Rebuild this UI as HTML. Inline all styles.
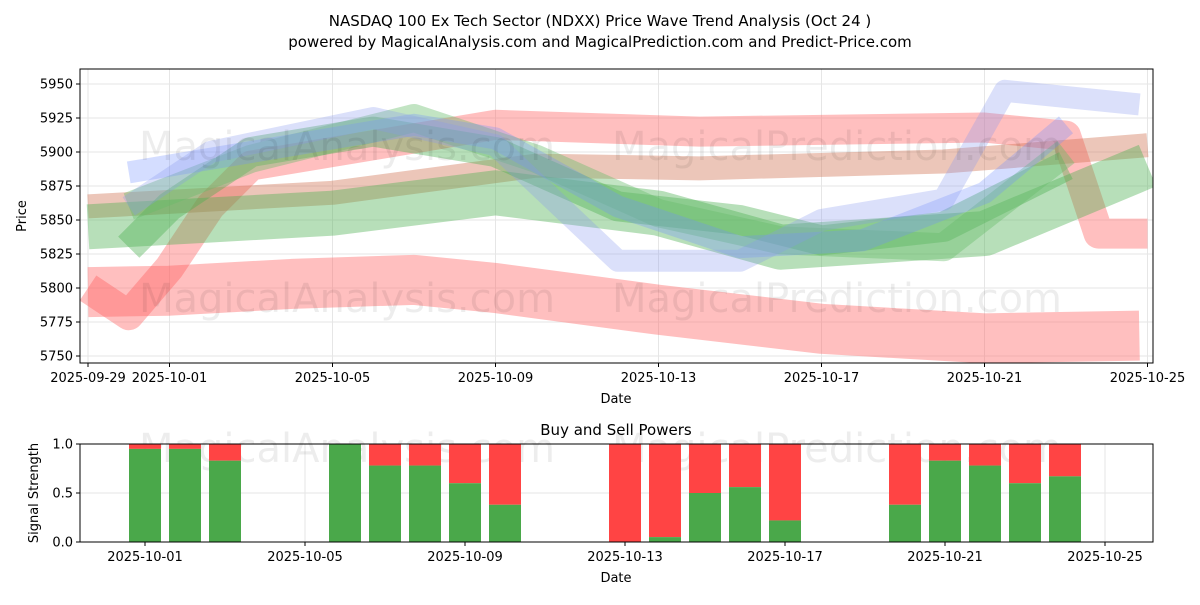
<!DOCTYPE html>
<html><head><meta charset="utf-8"><style>
body{margin:0;background:#fff;font-family:"Liberation Sans","DejaVu Sans",sans-serif}
svg text{font-family:"DejaVu Sans","Liberation Sans",sans-serif}
</style></head><body>
<svg id="c" width="1200" height="600" xmlns="http://www.w3.org/2000/svg">
<text x="600" y="26" text-anchor="middle" font-size="15">NASDAQ 100 Ex Tech Sector (NDXX) Price Wave Trend Analysis (Oct 24 )</text>
<text x="600" y="47" text-anchor="middle" font-size="15">powered by MagicalAnalysis.com and MagicalPrediction.com and Predict-Price.com</text>
<defs><clipPath id="cp"><rect x="80" y="69" width="1073" height="294"/></clipPath></defs>
<g id="top"></g>
<g id="bot"></g>
</svg>
<script>
// price panel data (day offset from 2025-09-29)
const bandNames=['red-lower','red-upper','red-mid','green-1','green-2','green-3','blue-1','blue-2'];
const bandColors=['#ff6060','#ff6060','#d07050','#4caf50','#4caf50','#66bb6a','#7090ff','#8899ee'];
const bandOpac=[0.4,0.4,0.4,0.4,0.4,0.4,0.3,0.3];
const bandDays=[
 [0,2,5,8,10,14,18,22,25.8],
 [0,1,2,3,4,7,10,15,22,24,24.8,26],
 [0,6,11,15,21,26],
 [0,3,6,10,14,17,22,26],
 [1,2,4,7,10,13,16,18,21,24],
 [1,4,8,11,14,17,21,24],
 [1,4,8,10,13,16,19,22,24],
 [1,3,7,10,13,16,18,21,22.5,25.8]];
const bandValues=[
 [5797,5798,5803,5806,5800,5784,5770,5763,5765],
 [5800,5780,5815,5860,5890,5905,5920,5915,5918,5912,5840,5840],
 [5860,5870,5890,5888,5893,5905],
 [5845,5850,5855,5870,5855,5830,5840,5890],
 [5830,5860,5900,5915,5900,5860,5850,5835,5845,5890],
 [5860,5895,5925,5895,5855,5835,5830,5900],
 [5885,5900,5920,5910,5860,5830,5835,5870,5920],
 [5860,5900,5925,5905,5820,5820,5850,5865,5945,5935]];
const bandWidths=[50,30,24,45,30,28,22,22];
const yTicks=[5750,5775,5800,5825,5850,5875,5900,5925,5950];
const xTickDays=[0,2,6,10,14,18,22,26];
const xTickLabels=['2025-09-29','2025-10-01','2025-10-05','2025-10-09','2025-10-13','2025-10-17','2025-10-21','2025-10-25'];
// signal panel data (day offset from 2025-10-01)
const sigDays=[0,1,2,5,6,7,8,9,12,13,14,15,16,19,20,21,22,23];
const buyPower=[0.95,0.95,0.83,1.0,0.78,0.78,0.6,0.38,0.0,0.05,0.5,0.56,0.22,0.38,0.83,0.78,0.6,0.67];
const bTickDays=[0,4,8,12,16,20,24];
const bTickLabels=['2025-10-01','2025-10-05','2025-10-09','2025-10-13','2025-10-17','2025-10-21','2025-10-25'];
const sTicks=[0,0.5,1.0];

const NS='http://www.w3.org/2000/svg';
function mk(p,t,a){const e=document.createElementNS(NS,t);for(const k in a)e.setAttribute(k,a[k]);p.appendChild(e);return e;}
const x=d=>88+40.75*d, y=v=>84+(5950-v)*1.36;
const xb=d=>145+40.0*d, yb=v=>542-98*v;
const topG=document.getElementById('top'), botG=document.getElementById('bot');

yTicks.forEach(v=>{const g=mk(topG,'line',{x1:80,x2:1153,y1:y(v),y2:y(v),stroke:'#e6e6e6'});

mk(topG,'line',{x1:76,x2:80,y1:y(v),y2:y(v),stroke:'#000'});
const t=mk(topG,'text',{x:73,y:y(v)+4.5,'text-anchor':'end','font-size':13});t.textContent=v;
});
xTickDays.forEach((d,i)=>{const g=mk(topG,'line',{x1:x(d),x2:x(d),y1:69,y2:363,stroke:'#e6e6e6'});

mk(topG,'line',{x1:x(d),x2:x(d),y1:363,y2:367,stroke:'#000'});
const t=mk(topG,'text',{x:x(d),y:382,'text-anchor':'middle','font-size':13});t.textContent=xTickLabels[i];
});
const bg=mk(topG,'g',{'clip-path':'url(#cp)'});
bandValues.forEach((vals,i)=>{const pts=vals.map((v,j)=>x(bandDays[i][j])+','+y(v)).join(' ');
const pl=mk(bg,'polyline',{points:pts,fill:'none',stroke:bandColors[i],'stroke-width':bandWidths[i],'stroke-opacity':bandOpac[i],'stroke-linejoin':'round'});
});
[['MagicalAnalysis.com',347,160],['MagicalPrediction.com',837,160],['MagicalAnalysis.com',347,312],['MagicalPrediction.com',837,312]].forEach(w=>{
const t=mk(topG,'text',{x:w[1],y:w[2],'text-anchor':'middle','font-size':40,fill:'#000','fill-opacity':0.07});t.textContent=w[0];
});
mk(topG,'rect',{x:80,y:69,width:1073,height:294,fill:'none',stroke:'#000'});
let tx=mk(topG,'text',{x:616,y:403,'text-anchor':'middle','font-size':13});tx.textContent='Date';

tx=mk(topG,'text',{x:26,y:216,'text-anchor':'middle','font-size':13,transform:'rotate(-90 26 216)'});tx.textContent='Price';


tx=mk(botG,'text',{x:616,y:435,'text-anchor':'middle','font-size':15});tx.textContent='Buy and Sell Powers';

sTicks.forEach(v=>{const g=mk(botG,'line',{x1:80,x2:1153,y1:yb(v),y2:yb(v),stroke:'#e6e6e6'});

mk(botG,'line',{x1:76,x2:80,y1:yb(v),y2:yb(v),stroke:'#000'});
const tt=mk(botG,'text',{x:73,y:yb(v)+4.5,'text-anchor':'end','font-size':13});tt.textContent=v.toFixed(1);
});
bTickDays.forEach((d,i)=>{const g=mk(botG,'line',{x1:xb(d),x2:xb(d),y1:444,y2:542,stroke:'#e6e6e6'});

mk(botG,'line',{x1:xb(d),x2:xb(d),y1:542,y2:546,stroke:'#000'});
const tt=mk(botG,'text',{x:xb(d),y:561,'text-anchor':'middle','font-size':13});tt.textContent=bTickLabels[i];
});
[['MagicalAnalysis.com',347,462],['MagicalPrediction.com',837,462]].forEach(w=>{
const tt=mk(botG,'text',{x:w[1],y:w[2],'text-anchor':'middle','font-size':40,fill:'#000','fill-opacity':0.07});tt.textContent=w[0];
});
sigDays.forEach((d,i)=>{const b=buyPower[i];
const r=mk(botG,'rect',{x:xb(d)-16,y:yb(1),width:32,height:yb(b)-yb(1),fill:'#ff4444'});

const g=mk(botG,'rect',{x:xb(d)-16,y:yb(b),width:32,height:yb(0)-yb(b),fill:'#4aa84a'});
});
mk(botG,'rect',{x:80,y:444,width:1073,height:98,fill:'none',stroke:'#000'});
tx=mk(botG,'text',{x:616,y:582,'text-anchor':'middle','font-size':13});tx.textContent='Date';

tx=mk(botG,'text',{x:38,y:493,'text-anchor':'middle','font-size':13,transform:'rotate(-90 38 493)'});tx.textContent='Signal Strength';

</script>
</body></html>
